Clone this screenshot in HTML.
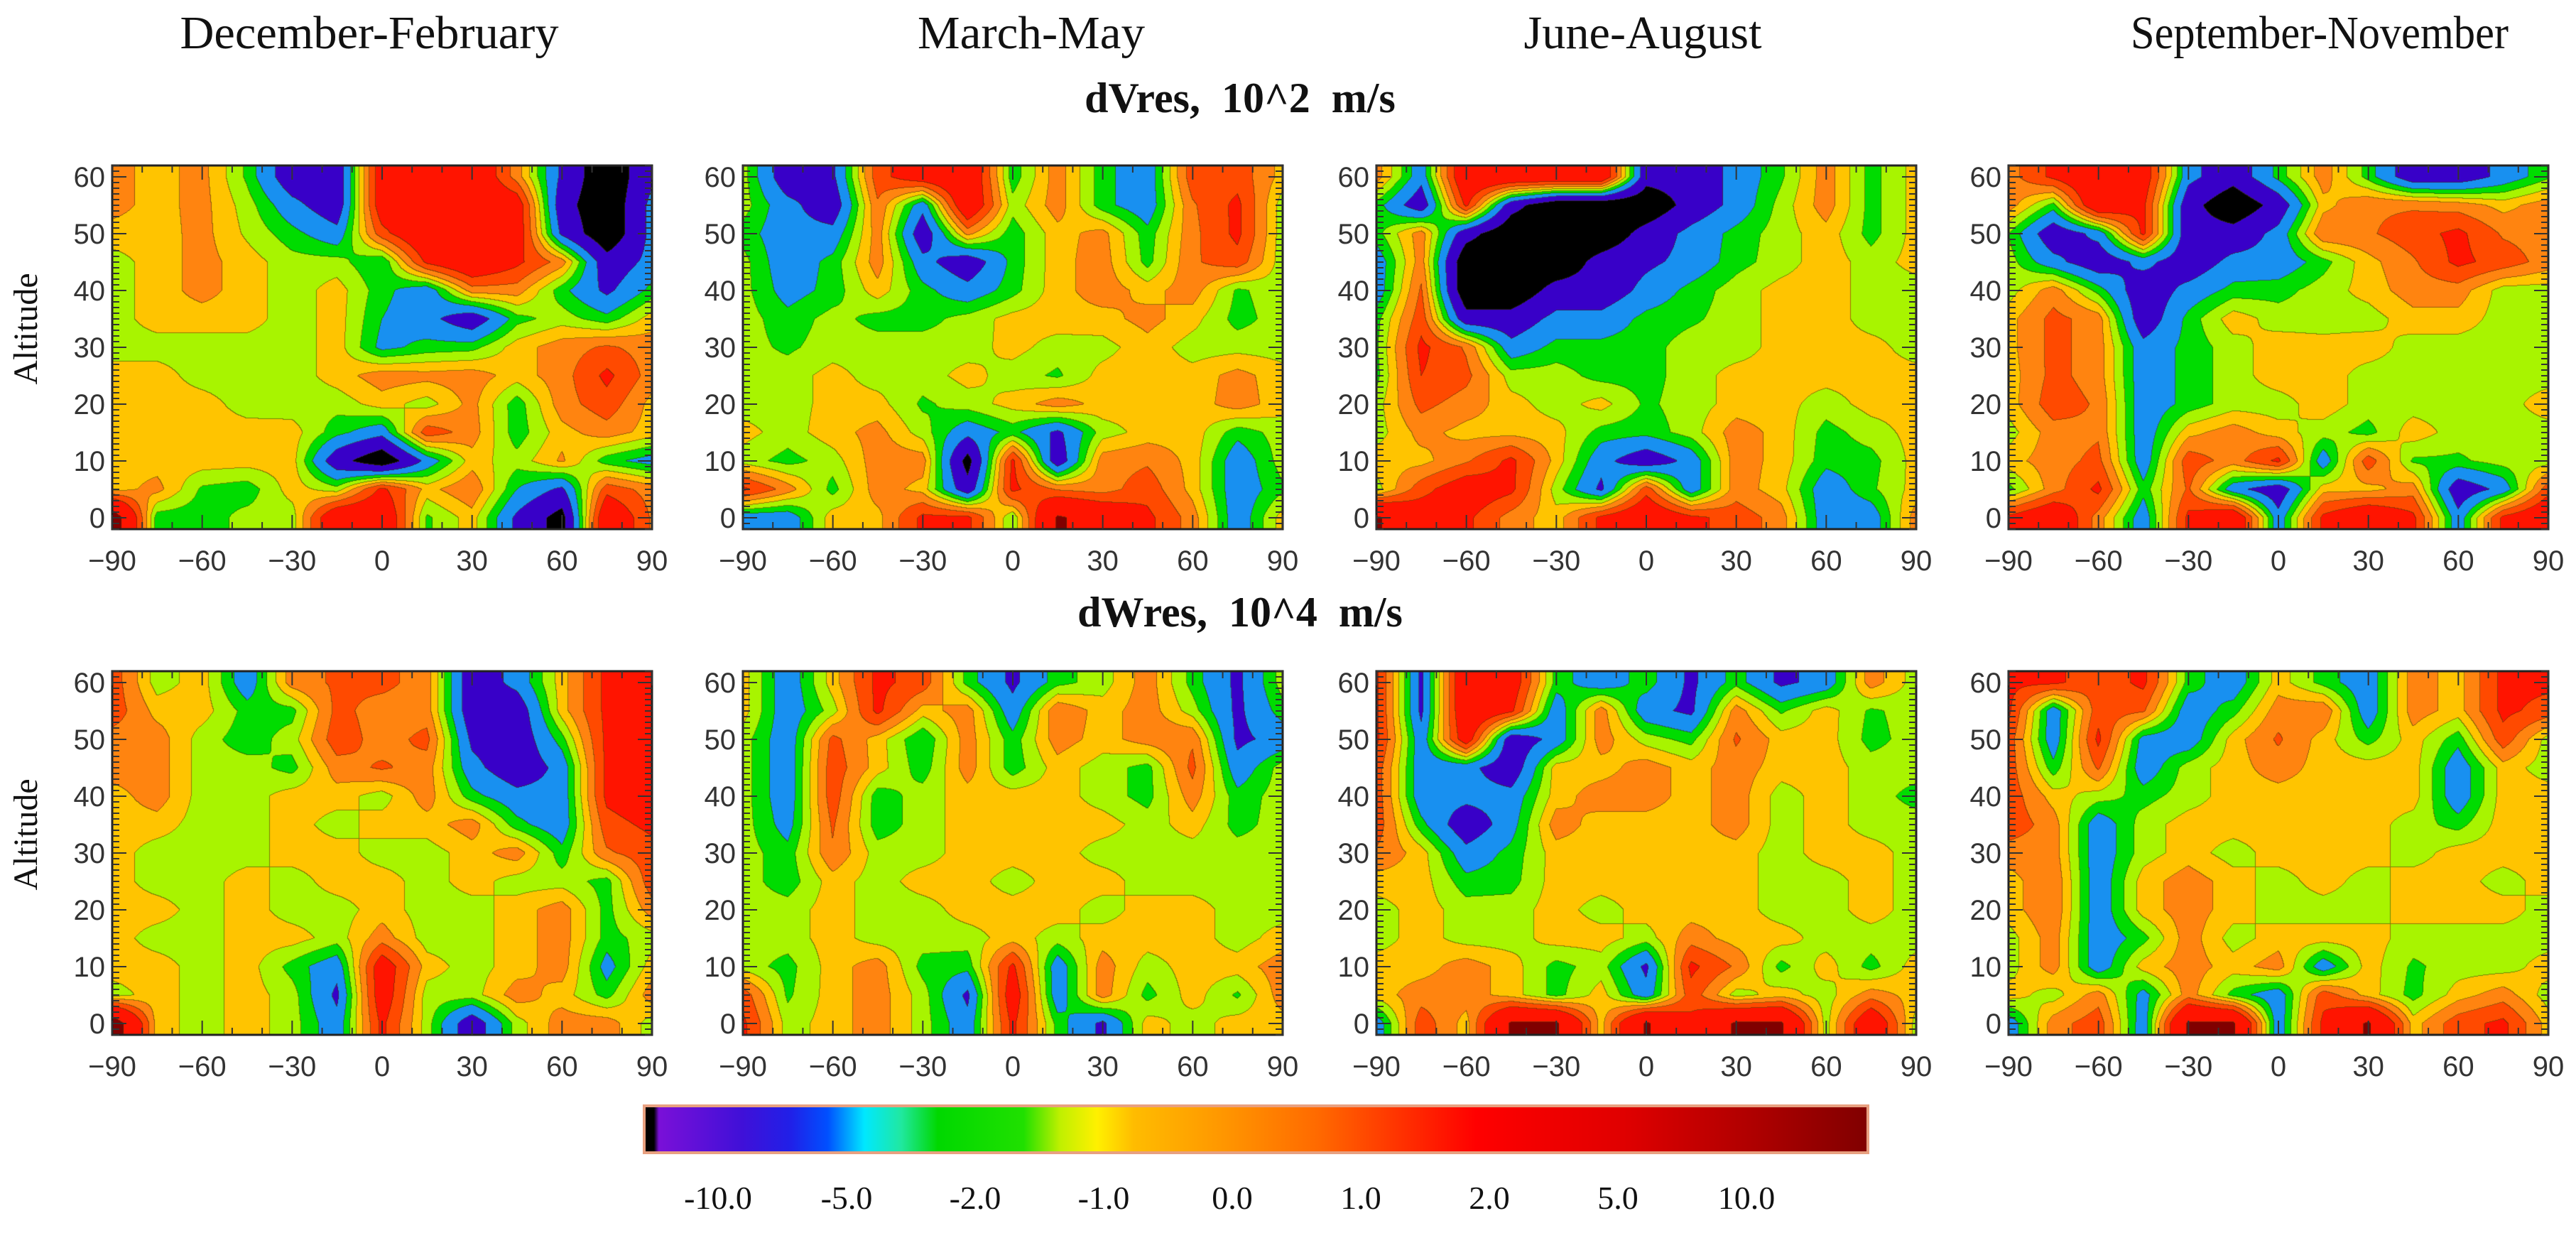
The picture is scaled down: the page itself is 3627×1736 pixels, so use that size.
<!DOCTYPE html>
<html><head><meta charset="utf-8">
<style>
html,body{margin:0;padding:0;background:#fff;}
#root{position:relative;width:3627px;height:1736px;overflow:hidden;background:#fff;}
canvas{position:absolute;}
svg{position:absolute;left:0;top:0;}
</style></head>
<body>
<div id="root">
<svg id="ov" width="3627" height="1736"></svg>
</div>
<script>
const lats=[-90,-75,-60,-45,-30,-15,0,15,30,45,60,75,90];
const alts=[60,55,50,45,40,35,30,25,20,15,10,5,0];
const seasonTitles=["December-February","March-May","June-August","September-November"];
const rowTitles=["dVres,  10^2  m/s","dWres,  10^4  m/s"];
const xTickLabels=[-90,-60,-30,0,30,60,90];
const yTickLabels=[0,10,20,30,40,50,60];
const colorbarLabels=["-10.0","-5.0","-2.0","-1.0","0.0","1.0","2.0","5.0","10.0"];
const levelThresholds=[-3,-1.8,-1,-0.5,0,0.5,1.1,1.8,3.8];
const levelColors=["#000000","#3800c8","#1890f0","#00dc00","#a8f400","#ffc400","#ff8410","#ff4a00","#ff1400","#800000"];

const dvDJF=[
[.7,.3,.7,-.6,-2.5,-2.5,2.5,3,3,.8,-2,-4,-2],
[.7,.3,.7,-.25,-1.5,-2.5,2.5,3,3,2.5,-2.5,-4,-1.5],
[.3,.25,.7,-.1,-.8,-1.5,1.5,3,3,2.5,-2,-4,-1.5],
[-.25,.25,.7,.25,-.3,-.3,-1,2,3,2,.8,-2.5,-1.5],
[-.25,.25,.7,.25,-.3,.25,-.8,-1.5,.8,.8,-.8,-2,-.8],
[-.25,.25,.25,.25,-.3,.25,-1,-1.5,-2.5,-.7,-.25,-.8,.25],
[-.25,-.25,-.25,-.25,-.3,.25,-1.2,-.8,-.7,.25,.8,1.2,.8],
[.25,.25,-.25,-.3,-.3,.25,.8,.7,.8,.25,.8,2,.8],
[.25,.25,.25,-.25,-.3,-.3,.25,-.25,.7,-.8,.8,1.5,.3],
[.25,.25,.25,.25,.25,-.8,-1.5,1.5,.8,-.8,.3,.8,.25],
[.25,.25,.3,.25,.25,-2.5,-4,-1.5,.25,-.3,.6,-.8,-1.3],
[.25,.7,-.6,-.8,.25,-.3,2,.3,1,-1,-2,1.5,.8],
[5,-.8,-.8,-.3,-.3,3,3,-.6,.25,-2,-3.5,3,1]];
const dvMAM=[
[-.25,-2.5,-2,1.5,2.5,3,-.8,.8,-.8,-1.5,1.5,1.5,.3],
[-.25,-1.5,-2.5,1,-1.5,3,-.3,.8,-.8,-1.5,1,2,-.3],
[-.7,-1.5,-1.5,.8,-2.5,.7,-.8,.3,.7,-.8,.9,2,-.3],
[-.3,-1.5,-.8,.8,-1.5,-2.5,-.8,.3,.8,-.7,1,1.5,-.3],
[-.3,-1.3,-.8,.3,-.8,-1.5,-.7,.3,.8,.3,.8,-.6,-.2],
[-.25,-.8,-.3,-.7,-.7,-.3,.2,.3,.3,.7,.2,-.7,-.25],
[-.3,-.6,-.25,-.25,-.25,-.25,.2,-.25,-.2,.3,-.25,-.2,-.25],
[-.25,-.25,.2,-.25,-.25,.2,-.25,-.6,.2,.3,.2,.7,.2],
[-.25,-.25,.2,.2,-.6,-.25,.2,.8,.3,.2,.2,.8,.2],
[.2,-.25,.3,.7,-.25,-1.5,-.8,-2,-.25,.2,.3,-.8,-.25],
[-.25,-.7,-.25,.8,.8,-3.5,2,-2.5,.8,1,.3,-1.5,-.25],
[2,.8,-.7,.8,.3,-2.5,2,1,.8,1.5,.3,-1.5,-.6],
[-1.5,-1.5,.3,.3,2,2,-.5,4,3,2,.8,-1.5,.25]];
const dvJJA=[
[.8,-1.5,3,3,3,3,-2.5,-2.5,-1.5,-.6,.8,-.7,.2],
[-.7,-2.5,2,-2.5,-4,-4,-4,-2.5,-1.5,-.3,.8,-.7,.2],
[-.7,.8,-2.5,-4,-4,-4,-2.5,-1.5,-.8,-.25,.3,-.7,.2],
[-1.5,.8,-4,-4,-4,-2.5,-2,-1.5,-.7,-.25,.3,-.25,.2],
[-1.5,1.2,-4,-4,-2.5,-2.5,-1.5,-.8,-.25,.2,.3,-.25,-.25],
[-.7,1.5,-2.5,-2.5,-1.5,-1.5,-.8,-.6,-.25,.2,.3,-.25,-.25],
[-.6,2,1,-1.5,-.8,-.8,-.7,-.25,-.25,.2,.2,.2,-.25],
[-.7,1.8,1.3,-.25,-.25,-.7,-.7,-.25,.2,.2,.2,.2,.2],
[-.25,1.3,.8,.2,-.25,.2,-.6,-.25,.2,.2,-.25,.2,.2],
[-.25,.7,.3,.3,.2,-.7,-.8,-.25,.8,.3,-.7,-.25,.2],
[.3,.3,1,2,.3,-1.5,-2.5,-1.5,.8,.3,-.8,-.7,.2],
[-.25,1.5,2.5,2,-.25,-2,1.5,-1.5,.8,.2,-1.5,-.6,.2],
[4,2.5,2,.8,.2,2,3,2,1.5,.8,-1.5,-1.5,.8]];
const dvSON=[
[.8,2,3,2.5,-1.5,-2.5,-.8,.8,-.7,-2.5,-2.5,-1.5,-.6],
[.8,-.7,3,2,-2.5,-4,-2.5,.3,1,1,.8,.3,.8],
[-.5,-2.5,-1.5,2,-2.5,-2.5,-1.5,1,1,1.5,2,1,.8],
[-.25,-1.5,-2.5,-1.5,-2.5,-1.5,-1.5,-.7,.3,1,2,1.5,.8],
[-.25,.8,-.7,-2.5,-1.5,-.8,-.7,-.25,.2,.8,.8,-.25,-.25],
[.3,1.3,.8,-2.5,-.8,.3,-.25,-.25,-.25,.3,.3,-.25,-.25],
[.3,1.3,.8,-1.5,-.8,-.25,.3,.2,.3,-.25,-.25,-.25,-.25],
[.2,1.3,.8,-1.5,-.8,-.25,.3,.3,-.25,-.25,-.25,-.25,-.25],
[.2,1.5,1,-1.5,-.8,-.25,-.25,.3,-.25,-.25,-.25,-.25,.3],
[-.25,.8,1,-1.5,.3,.8,.2,-.25,-.7,.3,-.25,-.25,-.25],
[.3,.8,1.3,-1.5,1.5,.8,2,-1.5,1.5,-.6,-.6,-.25,-.25],
[-.7,.8,2,-.8,1.2,-1.5,-2.5,.3,.3,.8,-2.5,-1.5,1.5],
[2,3,.8,-1.5,2,3,-1.5,2,3,2,-1.5,2,3]];
const dwDJF=[
[1.5,-.25,.25,-1.5,.8,1.2,1.3,.8,-2.5,-1.5,.25,2,2],
[1.5,.3,.25,-.7,-.7,1.3,.8,.8,-2.5,-2.5,.25,2,2],
[.8,.8,-.25,-.8,-.25,1.5,.8,1.3,-2,-2.5,-.7,2,2],
[.8,.8,-.25,-.25,-.7,.8,1.2,.8,-1.5,-2.5,-1.5,2,2.5],
[.25,.8,-.25,-.25,.25,.25,-.25,.8,-.8,-1.5,-1.5,2,2.5],
[.25,.25,-.25,-.25,.25,-.25,.25,.25,.8,-.8,-1.5,1.5,2],
[.25,-.25,-.25,-.25,.25,.25,-.25,-.25,.25,.8,-.8,1,1.5],
[.25,-.25,-.25,.25,-.25,.25,.25,-.25,.25,-.25,-.25,-.7,1.5],
[.25,.25,-.25,.25,-.25,-.25,.25,-.25,-.25,.25,.8,-.7,.8],
[.25,-.25,-.25,.25,.25,-.25,.8,-.25,-.25,.25,.8,-.7,-.25],
[.25,.25,-.25,.25,-.7,-1.5,2.5,.25,-.25,.25,.8,-1.3,.25],
[-.25,.25,-.25,.25,-.25,-2,2.5,-.25,-.25,.8,.25,-.7,.8],
[5,.25,-.25,.25,-.25,-1.5,2,-.25,-2.5,-.25,.8,.8,-.25]];
const dwMAM=[
[.25,-1.5,.25,2,1.5,-.7,-2,-.7,-.25,.8,-.7,-2,-.25],
[.25,-1.5,-.25,2,.25,.8,-1.5,1,.25,.8,-.25,-2,-.7],
[-.25,-1.5,1.3,.25,-1,.8,-.8,.8,.25,.8,1,-2,-1.5],
[-.25,-1.5,1.5,.25,-.8,.8,-.8,.25,-.25,-.7,1.3,-1.5,-.25],
[-.25,-1.5,1.5,-.8,-.25,.25,.25,.25,-.25,-.7,.8,-.8,-.25],
[-.25,-1.3,1.2,-.8,-.25,.25,.25,.25,.25,-.25,.25,-.7,-.25],
[-.25,-.8,1,-.25,-.25,.25,.25,.25,-.25,-.25,-.25,-.25,-.25],
[-.25,-.8,.25,-.25,.25,.25,-.25,.25,.25,-.25,-.25,-.25,-.25],
[-.25,-.25,.25,-.25,-.25,.25,.25,.25,-.25,.25,.25,-.25,-.25],
[-.25,-.25,.25,-.25,-.25,-.25,.25,-.25,.25,.25,.25,-.25,.25],
[-.25,-.7,.25,.8,-.7,-.8,2,-1.5,.8,-.25,.25,.25,.8],
[1.5,-.6,.25,.8,-.25,-2,2.5,-1.5,.8,-.7,.25,-.6,.8],
[2,-.25,.25,.8,-.25,-1.5,2,-.7,-2,.25,-.25,.25,.25]];
const dwJJA=[
[2,-2,3,2.5,-.7,-1.5,-.7,-2,-.7,-2,-1.5,.8,-.25],
[2,-2,3,2,-1.5,.8,-1.5,-2,.8,-.6,.25,-.6,-.25],
[2,-1.5,2.5,-2.5,-1.5,.8,-.25,-.7,1.2,.25,.25,-.7,-.25],
[1.5,-1.5,-1.5,-2.5,.25,.25,.8,.25,.8,.25,.25,-.25,-.25],
[1.5,-1.5,-1.5,-1.5,.25,.8,.8,.25,.8,-.25,.25,-.25,-.7],
[1.5,-.8,-2.5,-1.3,.8,.25,.25,.25,.8,-.25,.25,-.25,-.25],
[1,.25,-1.5,-.8,.25,.25,.25,.25,.25,-.25,.25,.25,-.25],
[.25,.25,-.8,-.7,.25,.25,.25,.25,.25,-.25,-.25,.25,-.25],
[-.25,.25,-.25,-.25,.25,-.25,.25,.25,.25,-.25,-.25,.25,-.25],
[-.25,.25,-.25,-.25,.25,.25,-.25,.8,.25,.25,-.25,-.25,-.25],
[.25,.25,.8,.25,-.7,-.25,-2,2,1,-.7,.25,-.7,.25],
[.25,.8,.8,.25,-.7,.25,-1.5,1.5,-.25,.25,-.25,.8,.25],
[-1.5,1.5,.25,4,4,.25,4,2,4,4,-.25,3,-.25]];
const dwSON=[
[2,2,1.3,2,-.7,-1.5,.25,-.7,-1.5,.8,.25,2,2],
[2,-1.5,1.5,1.2,-1.5,-.7,.8,1,-1.5,.8,.25,2,1.5],
[1.5,-1.5,2,-1.3,-1.5,.25,1.2,.25,-.7,.25,-.8,1.5,-.25],
[1.5,-.8,1.2,-1.5,-.25,.25,.8,.25,.25,.25,-1.5,.25,-.25],
[1.5,.25,-.25,-.7,-.25,.25,.25,.25,.25,.25,-1.5,.25,.25],
[1.5,.8,-1.5,-.25,.25,.25,.25,.25,.25,-.25,-.7,.25,.25],
[.8,.8,-1.5,-.25,.25,-.25,.25,.25,.25,-.25,.25,.25,.25],
[.25,1,-1.5,.25,.8,.25,-.25,.25,-.25,.25,.25,-.25,.25],
[.25,1,-1.5,.25,.8,.25,-.25,-.25,-.25,.25,.25,.25,-.25],
[-.25,.8,-1.5,-.7,.8,-.25,.25,.25,.25,-.25,-.25,-.25,-.25],
[-.25,.8,-1.5,.25,.8,.25,.8,-1.5,.25,-.6,-.25,-.25,.25],
[.25,-.25,.8,-1.3,.8,-.7,-1.5,1.5,.25,-.7,.25,.8,-.25],
[-1.5,.8,1.5,-1.5,4,4,-1.5,2,4,.25,1.5,2,.25]];

const grids=[[dvDJF,dvMAM,dvJJA,dvSON],[dwDJF,dwMAM,dwJJA,dwSON]];
const panelNames=[["dvres-djf","dvres-mam","dvres-jja","dvres-son"],["dwres-djf","dwres-mam","dwres-jja","dwres-son"]];

const PL=[158,1046,1938,2828], PT=[233,945], PW=760, PH=512;
const LAT0=-90, LAT1=90, ALT0=-2, ALT1=62;
function xScale(p,lat){return PL[p]+(lat-LAT0)/(LAT1-LAT0)*PW;}
function yScale(r,alt){return PT[r]+(ALT1-alt)/(ALT1-ALT0)*PH;}
function latAt(px){return LAT0+(px+0.5)/PW*(LAT1-LAT0);}
function altAt(py){return ALT1-(py+0.5)/PH*(ALT1-ALT0);}

function hex(c){return [parseInt(c.substr(1,2),16),parseInt(c.substr(3,2),16),parseInt(c.substr(5,2),16)];}
const rgbLevels=levelColors.map(hex);
function classify(v){let k=0;while(k<levelThresholds.length&&v>=levelThresholds[k])k++;return k;}
function sample(g,lat,alt){
  let fi=(lat-lats[0])/(lats[1]-lats[0]);
  let fj=(alts[0]-alt)/(alts[0]-alts[1]);
  fi=Math.max(0,Math.min(lats.length-1.0001,fi));
  fj=Math.max(0,Math.min(alts.length-1.0001,fj));
  const i=Math.floor(fi),j=Math.floor(fj),a=fi-i,b=fj-j;
  const v00=g[j][i],v01=g[j][i+1],v10=g[j+1][i],v11=g[j+1][i+1];
  return (v00*(1-a)+v01*a)*(1-b)+(v10*(1-a)+v11*a)*b;
}

const root=document.getElementById('root');
const NS="http://www.w3.org/2000/svg";
const ov=document.getElementById('ov');
function sv(tag,attrs,parent){const e=document.createElementNS(NS,tag);for(const k in attrs)e.setAttribute(k,attrs[k]);(parent||ov).appendChild(e);return e;}

for(let r=0;r<2;r++){
  for(let p=0;p<4;p++){
    const g=grids[r][p];
    const cv=document.createElement('canvas');
    cv.width=PW;cv.height=PH;
    cv.style.left=PL[p]+'px';cv.style.top=PT[r]+'px';
    
    
    root.insertBefore(cv,ov);
    const ctx=cv.getContext('2d');
    const img=ctx.createImageData(PW,PH);
    const cls=new Uint8Array(PW*PH);
    for(let y=0;y<PH;y++){const alt=altAt(y);
      for(let x=0;x<PW;x++){cls[y*PW+x]=classify(sample(g,latAt(x),alt));}}
    for(let y=0;y<PH;y++){for(let x=0;x<PW;x++){
      const k=cls[y*PW+x];let c=rgbLevels[k];
      const edge=(x<PW-1&&cls[y*PW+x+1]!==k)||(y<PH-1&&cls[(y+1)*PW+x]!==k);
      const o=(y*PW+x)*4;
      if(edge){img.data[o]=c[0]*0.45+60*0.55;img.data[o+1]=c[1]*0.45+50*0.55;img.data[o+2]=c[2]*0.45+10*0.55;}
      else{img.data[o]=c[0];img.data[o+1]=c[1];img.data[o+2]=c[2];}
      img.data[o+3]=255;}}
    ctx.putImageData(img,0,0);

    const fr=sv('rect',{x:PL[p],y:PT[r],width:PW,height:PH,fill:'none',stroke:'#222',"stroke-width":3});
    
    
    const tk=sv('g',{stroke:'#333',"stroke-width":2});
    
    
    for(let a=ALT0;a<=ALT1;a+=1){
      const y=yScale(r,a);const L=(a%10===0)?20:10;
      sv('line',{x1:PL[p],y1:y,x2:PL[p]+L,y2:y},tk);
      sv('line',{x1:PL[p]+PW,y1:y,x2:PL[p]+PW-L,y2:y},tk);
    }
    for(let la=-90;la<=90;la+=10){
      const x=xScale(p,la);const L=(la%30===0)?20:10;
      sv('line',{x1:x,y1:PT[r]+PH,x2:x,y2:PT[r]+PH-L},tk);
      sv('line',{x1:x,y1:PT[r],x2:x,y2:PT[r]+L},tk);
    }
    xTickLabels.forEach(v=>{
      const t=sv('text',{x:xScale(p,v),y:PT[r]+PH+58,"text-anchor":"middle","font-family":"Liberation Sans, sans-serif","font-size":40,fill:'#333'});
      t.textContent=(v<0?'\u2212'+(-v):String(v));
      
      
    });
    yTickLabels.forEach(v=>{
      const t=sv('text',{x:PL[p]-10,y:yScale(r,v)+14,"text-anchor":"end","font-family":"Liberation Sans, sans-serif","font-size":40,fill:'#333'});
      t.textContent=String(v);
      
      
    });
  }
  const at=sv('text',{x:0,y:0,transform:`translate(52,${PT[r]+230}) rotate(-90)`,"text-anchor":"middle","font-family":"Liberation Serif, serif","font-size":48,fill:'#111'});
  at.textContent='Altitude';
  
  
}

const titleX=[520,1452,2313,3266];
const titleW=[533,320,335,532];
seasonTitles.forEach((s,i)=>{
  const t=sv('text',{x:titleX[i],y:68,"text-anchor":"middle","font-family":"Liberation Serif, serif","font-size":66,fill:'#111',textLength:titleW[i],lengthAdjust:'spacingAndGlyphs'});
  t.textContent=s;
  
  
});
const rowY=[158,882];
rowTitles.forEach((s,i)=>{
  const t=sv('text',{x:1746,y:rowY[i],"text-anchor":"middle","font-family":"Liberation Serif, serif","font-size":60,"font-weight":"bold",fill:'#111'});
  t.setAttribute('style','white-space:pre');
  t.textContent=s;
  
  
});

const defs=sv('defs',{});
const lg=sv('linearGradient',{id:'cb',x1:0,y1:0,x2:1,y2:0},defs);
[[0,'#000'],[0.008,'#000'],[0.012,'#7a10d8'],[0.08,'#4010d8'],[0.12,'#2020e8'],[0.15,'#0050ff'],[0.18,'#00e8ff'],[0.21,'#20e8a0'],[0.24,'#00d800'],[0.31,'#20e000'],[0.34,'#c0f000'],[0.37,'#fff000'],[0.40,'#ffbc00'],[0.47,'#ff9800'],[0.55,'#ff6a00'],[0.62,'#ff3000'],[0.68,'#ff0000'],[0.80,'#e00000'],[0.92,'#a80000'],[1,'#800000']].forEach(s=>{
  sv('stop',{offset:s[0],"stop-color":s[1]},lg);
});
const cb=sv('rect',{x:907,y:1557,width:1723,height:66,fill:'url(#cb)',stroke:'#e8a080',"stroke-width":4});


colorbarLabels.forEach((s,i)=>{
  const t=sv('text',{x:1011+i*181,y:1702,"text-anchor":"middle","font-family":"Liberation Serif, serif","font-size":46,fill:'#111'});
  t.textContent=s;
  
  
});
</script>
</body></html>
